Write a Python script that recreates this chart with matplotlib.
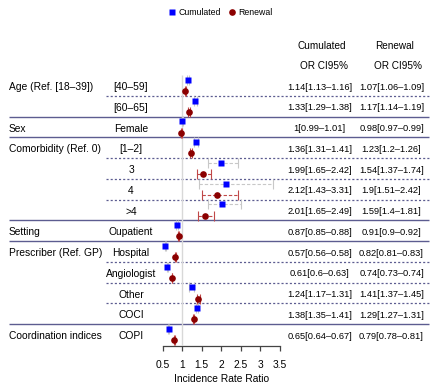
import numpy as np
import matplotlib
matplotlib.use("Agg")
import matplotlib.pyplot as plt

plt.rcParams['font.family'] = ['Liberation Sans', 'DejaVu Sans']
plt.rcParams['lines.scale_dashes'] = False

# data
groups = ["Age (Ref. [18–39])", "Sex", "Comorbidity (Ref. 0)", "Setting",
          "Prescriber (Ref. GP)", "Coordination indices"]
group_sizes = [2, 1, 4, 1, 4, 2]
levels = ["[40–59]", "[60–65]", "Female", "[1–2]", "3", "4", ">4", "Oupatient",
          "Hospital", "Angiologist", "Other", "COCI", "COPI"]

cum_or = [1.14, 1.33, 1, 1.36, 1.99, 2.12, 2.01, 0.87, 0.57, 0.61, 1.24, 1.38, 0.65]
cum_lo = [1.13, 1.29, 0.99, 1.31, 1.65, 1.43, 1.65, 0.85, 0.56, 0.6, 1.17, 1.35, 0.64]
cum_hi = [1.16, 1.38, 1.01, 1.41, 2.42, 3.31, 2.49, 0.88, 0.58, 0.63, 1.31, 1.41, 0.67]

ren_or = [1.07, 1.17, 0.98, 1.23, 1.54, 1.9, 1.59, 0.91, 0.82, 0.74, 1.41, 1.29, 0.79]
ren_lo = [1.06, 1.14, 0.97, 1.2, 1.37, 1.51, 1.4, 0.9, 0.81, 0.73, 1.37, 1.27, 0.78]
ren_hi = [1.09, 1.19, 0.99, 1.26, 1.74, 2.42, 1.81, 0.92, 0.83, 0.74, 1.45, 1.31, 0.81]

xticks = [0.5, 1, 1.5, 2, 2.5, 3, 3.5]

W, H = 440, 391
fig = plt.figure(figsize=(W / 100, H / 100), dpi=100)

# row geometry (pixels)
row0 = 85.6
rowh = 20.75

def row_of(ypx):
    return 1 + (ypx - row0) / rowh

# background table axes covering the whole figure
tab = fig.add_axes([0, 0, 1, 1])
tab.set_xlim(0, W)
tab.set_ylim(row_of(H), row_of(0))
tab.axis("off")

n = len(levels)
rows = np.arange(1, n + 1)

# separators
line_col = "#5c5c90"
ends = np.cumsum(group_sizes)
for r in range(1, n):
    if r in ends:
        tab.hlines(r + 0.5, 9, 429, color=line_col, lw=1.0)
    else:
        tab.hlines(r + 0.5, 106, 429, color=line_col, lw=0.9, linestyle=(0, (1.5, 1.5)))

# labels
fs = 7.4
starts = np.concatenate([[1], ends[:-1] + 1])
for g, s in zip(groups, starts):
    tab.text(9, s + 0.07, g, ha="left", va="center", fontsize=fs)
for r, lab in zip(rows, levels):
    tab.text(131, r + 0.07, lab, ha="center", va="center", fontsize=fs)

# value columns
tab.text(322, row_of(46), "Cumulated", ha="center", va="center", fontsize=7.2)
tab.text(395, row_of(46), "Renewal", ha="center", va="center", fontsize=7.2)
tab.text(324, row_of(66), "OR CI95%", ha="center", va="center", fontsize=7.2)
tab.text(398, row_of(66), "OR CI95%", ha="center", va="center", fontsize=7.2)
nfs = 6.7
for r, o, l, h in zip(rows, cum_or, cum_lo, cum_hi):
    tab.text(319.5, r + 0.07, f"{o:g}[{l:g}–{h:g}]", ha="center", va="center", fontsize=nfs)
for r, o, l, h in zip(rows, ren_or, ren_lo, ren_hi):
    tab.text(391.5, r + 0.07, f"{o:g}[{l:g}–{h:g}]", ha="center", va="center", fontsize=nfs)

# forest axes
px_unit = 39.1
x_left = 162.7 - 0.2 * px_unit
x_right = 162.7 + 3.2 * px_unit
y_top = row0 - rowh / 2
y_bot = 346
ax = fig.add_axes([x_left / W, 1 - y_bot / H, (x_right - x_left) / W, (y_bot - y_top) / H])
ax.patch.set_alpha(0)
ax.set_xlim(0.3, 3.7)
ax.set_ylim(row_of(y_bot), 0.5)

ax.vlines(1, 0.5, n + 0.5, color="#d8d8d8", lw=1.0, zorder=1)

cum = np.array(cum_or)
ren = np.array(ren_or)
cum_err = [cum - np.array(cum_lo), np.array(cum_hi) - cum]
ren_err = [ren - np.array(ren_lo), np.array(ren_hi) - ren]

eb1 = ax.errorbar(cum, rows - 0.27, xerr=cum_err, fmt="none", ecolor="#c8c8c8",
                  elinewidth=0.8, capsize=3.4, capthick=0.8, zorder=2)
eb1[2][0].set_linestyle((0, (2.4, 1.4)))
eb2 = ax.errorbar(ren, rows + 0.27, xerr=ren_err, fmt="none", ecolor="#c04848",
                  elinewidth=0.8, capsize=3.4, capthick=0.8, zorder=2)
eb2[2][0].set_linestyle((0, (2.4, 1.4)))
ax.plot(cum, rows - 0.27, "s", color="#0000ff", ms=5, mec="none", zorder=3, label="Cumulated")
ax.plot(ren, rows + 0.27, "o", color="#8b0000", ms=4.8, mec="none", zorder=3, label="Renewal")

for sp in ["top", "right", "left"]:
    ax.spines[sp].set_visible(False)
ax.spines["bottom"].set_bounds(0.5, 3.5)
ax.spines["bottom"].set_color("#444444")
ax.spines["bottom"].set_linewidth(0.9)
ax.set_yticks([])
ax.set_xticks(xticks)
ax.set_xticklabels([f"{t:g}" for t in xticks])
ax.tick_params(axis="x", length=3.6, width=0.9, color="#444444", labelsize=fs, pad=6.5)
ax.set_xlabel("Incidence Rate Ratio", fontsize=fs, labelpad=2.5)

fig.legend(loc="center", bbox_to_anchor=(0.5, 1 - 12.5 / H), ncol=2, frameon=False,
           fontsize=6.3, handletextpad=0.3, columnspacing=0.7, handlelength=1.0,
           borderaxespad=0)

fig.savefig("out.png", dpi=100)
